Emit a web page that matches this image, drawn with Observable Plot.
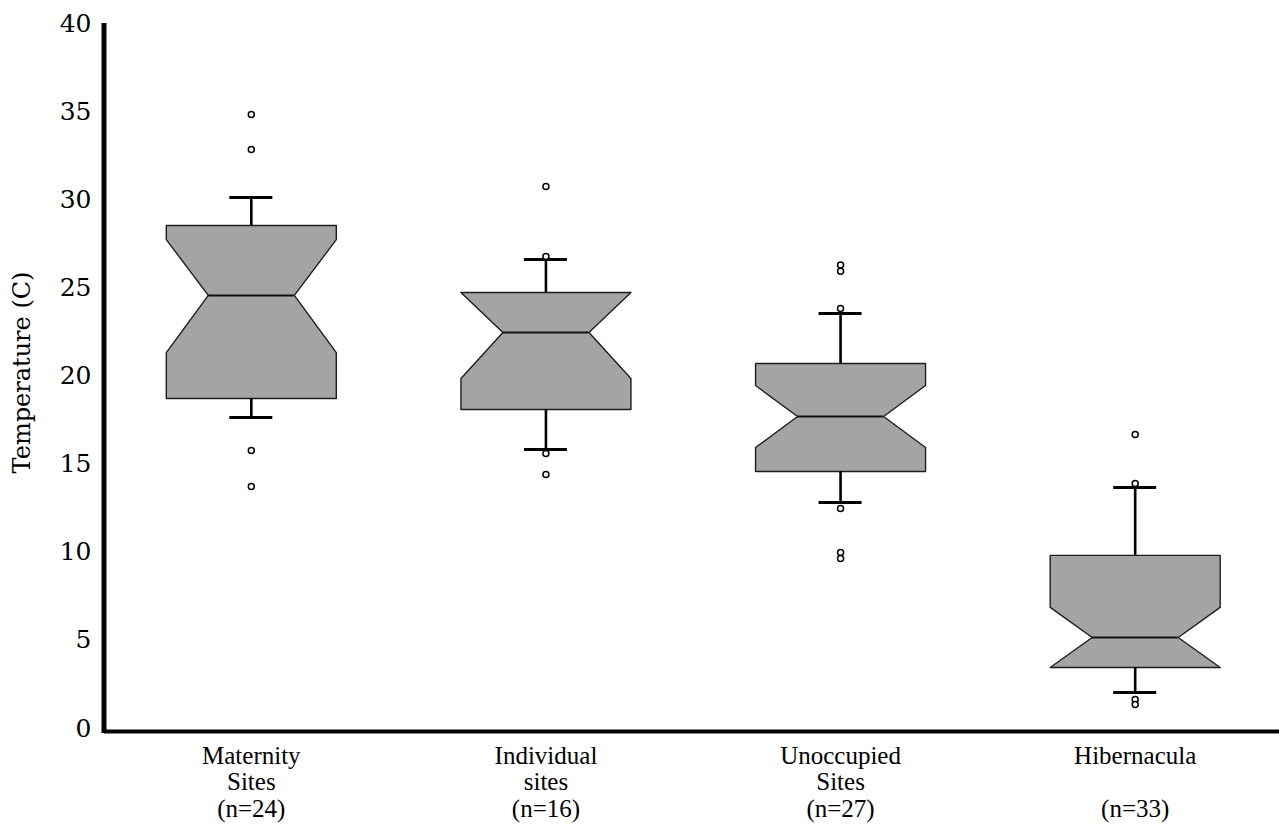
<!DOCTYPE html>
<html>
<head>
<meta charset="utf-8">
<script src="https://cdn.jsdelivr.net/npm/d3@7"></script>
<script src="https://cdn.jsdelivr.net/npm/@observablehq/plot@0.6"></script>
<style>
  html, body { margin: 0; padding: 0; background: #fff; }
  #chart svg { display: block; }
</style>
</head>
<body>
<div id="chart"></div>
<script>
// ---- data ----
const categories = ["Maternity Sites", "Individual sites", "Unoccupied Sites", "Hibernacula"];
const labels = ["Maternity\nSites\n(n=24)", "Individual\nsites\n(n=16)", "Unoccupied\nSites\n(n=27)", "Hibernacula\n\u00a0\n(n=33)"];
const q1 = [18.72, 18.10, 14.58, 3.46];
const q3 = [28.54, 24.74, 20.71, 9.82];
const medians = [24.57, 22.47, 17.70, 5.16];
const notchLo = [21.33, 19.86, 15.94, 3.46];
const notchHi = [27.74, 24.74, 19.46, 6.87];
const whiskerLo = [17.65, 15.83, 12.82, 2.04];
const whiskerHi = [30.13, 26.61, 23.55, 13.67];
const outliers = [
  [34.84, 32.85, 15.77, 13.73],
  [30.75, 26.78, 15.60, 14.41],
  [26.30, 25.95, 23.83, 12.48, 9.99, 9.65],
  [16.68, 13.90, 1.65, 1.36]
];
const yTicks = [0, 5, 10, 15, 20, 25, 30, 35, 40];
const yLabel = "Temperature (C)";

// ---- derived tables ----
const W = 0.2885;   // half box width (x units = category index)
const w = 0.146;    // half width at the notch waist
const cap = 0.073;  // half whisker cap width

const boxes = categories.map((c, i) => ({
  i, name: c, q1: q1[i], q3: q3[i], med: medians[i],
  nLo: notchLo[i], nHi: notchHi[i], wLo: whiskerLo[i], wHi: whiskerHi[i]
}));

const verts = boxes.flatMap(b => [
  [b.i - W, b.q3], [b.i + W, b.q3], [b.i + W, b.nHi], [b.i + w, b.med],
  [b.i + W, b.nLo], [b.i + W, b.q1], [b.i - W, b.q1], [b.i - W, b.nLo],
  [b.i - w, b.med], [b.i - W, b.nHi], [b.i - W, b.q3]
].map(([x, y]) => ({g: b.i, x, y})));

const outs = outliers.flatMap((vals, i) => vals.map(v => ({i, v})));

const plot = Plot.plot({
  width: 1279,
  height: 828,
  marginLeft: 104,
  marginRight: 0,
  marginTop: 23,
  marginBottom: 95,
  style: {fontFamily: "'DejaVu Serif', serif", fontSize: "25px", background: "#fff", color: "#000"},
  x: {domain: [-0.5, 3.5], range: [103.5, 1282], axis: null},
  y: {domain: [0, 40], range: [728, 23], axis: null},
  marks: [
    Plot.line(verts, {x: "x", y: "y", z: "g", fill: "url(#dither)", stroke: "#1e1e1e", strokeWidth: 1.4, curve: "linear"}),
    Plot.ruleY(boxes, {y: "med", x1: d => d.i - w, x2: d => d.i + w, stroke: "#111", strokeWidth: 2}),
    Plot.ruleX(boxes, {x: "i", y1: "q3", y2: "wHi", stroke: "#000", strokeWidth: 2.6}),
    Plot.ruleX(boxes, {x: "i", y1: "q1", y2: "wLo", stroke: "#000", strokeWidth: 2.6}),
    Plot.ruleY(boxes, {y: "wHi", x1: d => d.i - cap, x2: d => d.i + cap, stroke: "#000", strokeWidth: 3}),
    Plot.ruleY(boxes, {y: "wLo", x1: d => d.i - cap, x2: d => d.i + cap, stroke: "#000", strokeWidth: 3}),
    Plot.dot(outs, {x: "i", y: "v", r: 3, stroke: "#000", strokeWidth: 1.5, fill: "#fff"}),
    Plot.ruleX([-0.5], {stroke: "#000", strokeWidth: 5}),
    Plot.ruleY([0], {stroke: "#000", strokeWidth: 4, dy: 3}),
    Plot.axisY({ticks: yTicks, tickSize: 0, tickPadding: 13, label: null, fontSize: 25,
      fontFamily: "'DejaVu Serif', serif"}),
    Plot.text(boxes, {x: "i", y: 0, text: d => labels[d.i], lineAnchor: "top", lineHeight: 1.07, dy: 16,
      fontSize: 25, fontFamily: "'Liberation Serif', 'Times New Roman', serif", fill: "#000"}),
    Plot.text([yLabel], {frameAnchor: "left", textAnchor: "middle", rotate: -90, dx: -82, dy: -6, fontSize: 24,
      fontFamily: "'DejaVu Serif', serif", fill: "#000"})
  ]
});

// halftone-like dither pattern for the box fill
const ns = "http://www.w3.org/2000/svg";
const defs = document.createElementNS(ns, "defs");
defs.innerHTML = '<pattern id="dither" width="2" height="2" patternUnits="userSpaceOnUse">' +
  '<rect width="2" height="2" fill="#c4c4c4"/>' +
  '<rect width="1" height="1" fill="#838383"/>' +
  '<rect x="1" y="1" width="1" height="1" fill="#838383"/></pattern>';
plot.insertBefore(defs, plot.firstChild);

document.getElementById("chart").appendChild(plot);
</script>
</body>
</html>
